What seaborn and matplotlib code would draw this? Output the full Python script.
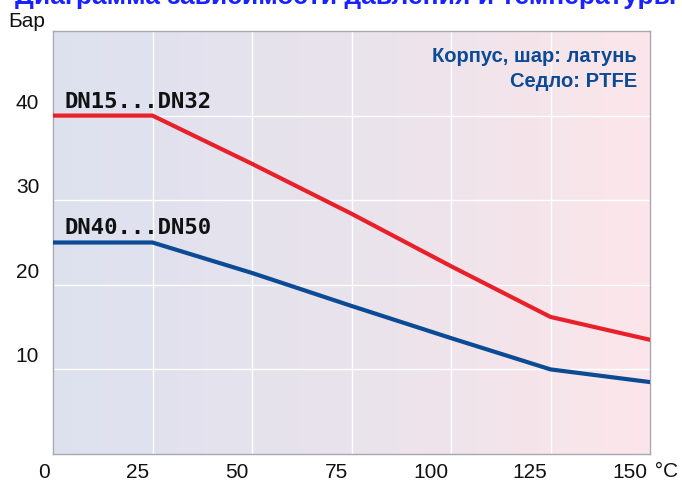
import numpy as np
import pandas as pd
import matplotlib
matplotlib.use("Agg")
import matplotlib.pyplot as plt
import matplotlib.transforms as mtransforms
from matplotlib import font_manager
from matplotlib.colors import LinearSegmentedColormap
import seaborn as sns

# ---- data ----
temps = [0, 25, 50, 75, 100, 125, 150]
dn15_32 = [40, 40, 34.3, 28.4, 22.2, 16.2, 13.5]
dn40_50 = [25, 25, 21.4, 17.5, 13.7, 10.0, 8.5]
series_names = ["DN15...DN32", "DN40...DN50"]
x_ticks = [0, 25, 50, 75, 100, 125, 150]
y_ticks = [10, 20, 30, 40]
title_text = "Диаграмма зависимости давления и температуры"
y_unit = "Бар"
x_unit = "°C"
note_lines = ["Корпус, шар: латунь", "Седло: PTFE"]

sns.set_theme(style="white")

names = {f.name for f in font_manager.fontManager.ttflist}
narrow = "Liberation Sans Narrow" if "Liberation Sans Narrow" in names else "Liberation Sans"
plt.rcParams["font.family"] = [narrow, "DejaVu Sans"]

df = pd.DataFrame({
    "temp": temps * 2,
    "pressure": dn15_32 + dn40_50,
    "series": [series_names[0]] * len(temps) + [series_names[1]] * len(temps),
})

red = "#e8202a"
blue = "#0b4a94"

fig = plt.figure(figsize=(6.82, 4.83), dpi=100)
ax = fig.add_axes([53 / 682, 1 - 454 / 483, (650 - 53) / 682, (454 - 31) / 483])

# gradient background
cmap = LinearSegmentedColormap.from_list("bg", ["#dde1ef", "#e9e3ec", "#fce6ea"])
grad = np.linspace(0, 1, 256).reshape(1, -1)
ax.imshow(grad, extent=[0, 150, 0, 50], aspect="auto", cmap=cmap, zorder=0)

sns.lineplot(data=df, x="temp", y="pressure", hue="series",
             palette={series_names[0]: red, series_names[1]: blue},
             linewidth=3.0, legend=False, ax=ax, zorder=3)

ax.set_xlim(0, 150)
ax.set_ylim(0, 50)
ax.set_xticks(x_ticks)
ax.set_yticks(y_ticks)
ax.grid(True, color="white", linewidth=1.0, zorder=1)
ax.set_axisbelow(True)
for sp in ax.spines.values():
    sp.set_color("#a8a8b2")
    sp.set_linewidth(1.0)
    sp.set_visible(True)
ax.tick_params(length=0)
ax.set_xlabel("")
ax.set_ylabel("")

ax.set_xticklabels([str(v) for v in x_ticks], fontsize=15, color="#111111")
ax.set_yticklabels([str(v) for v in y_ticks], fontsize=15, color="#111111")
for lab in ax.get_xticklabels():
    lab.set_horizontalalignment("right")
    lab.set_transform(lab.get_transform() + mtransforms.ScaledTranslation(-3 / 100, -4 / 100, fig.dpi_scale_trans))
for lab in ax.get_yticklabels():
    lab.set_verticalalignment("bottom")
    lab.set_transform(lab.get_transform() + mtransforms.ScaledTranslation(-9 / 100, 3 / 100, fig.dpi_scale_trans))

# °C unit after 150
ax.text(150, 0, " " + x_unit, fontsize=15, color="#111111", ha="left", va="top",
        transform=ax.transData + mtransforms.ScaledTranslation(-1 / 100, -8 / 100, fig.dpi_scale_trans))

# series labels
off = mtransforms.ScaledTranslation(0, 8 / 100, fig.dpi_scale_trans)
ax.text(3, dn15_32[0], series_names[0], fontsize=16, fontweight="bold",
        family=["DejaVu Sans Mono"], color="#111111", ha="left", va="baseline",
        transform=ax.transData + off, zorder=4)
ax.text(3, dn40_50[0], series_names[1], fontsize=16, fontweight="bold",
        family=["DejaVu Sans Mono"], color="#111111", ha="left", va="baseline",
        transform=ax.transData + off, zorder=4)

# note
fig.text(637 / 682, 1 - 62 / 483, note_lines[0], fontsize=14.5, fontweight="bold",
         color=blue, ha="right", va="baseline")
fig.text(637 / 682, 1 - 87 / 483, note_lines[1], fontsize=14.5, fontweight="bold",
         color=blue, ha="right", va="baseline")

# unit and cropped title
fig.text(8 / 682, 1 - 27 / 483, y_unit, fontsize=15, color="#111111", ha="left", va="baseline")
fig.text(15 / 682, 1 - 4 / 483, title_text, fontsize=19, fontweight="bold",
         color="#1a22ff", ha="left", va="baseline", family=["Liberation Sans", "DejaVu Sans"])

fig.savefig("out.png", dpi=100)
